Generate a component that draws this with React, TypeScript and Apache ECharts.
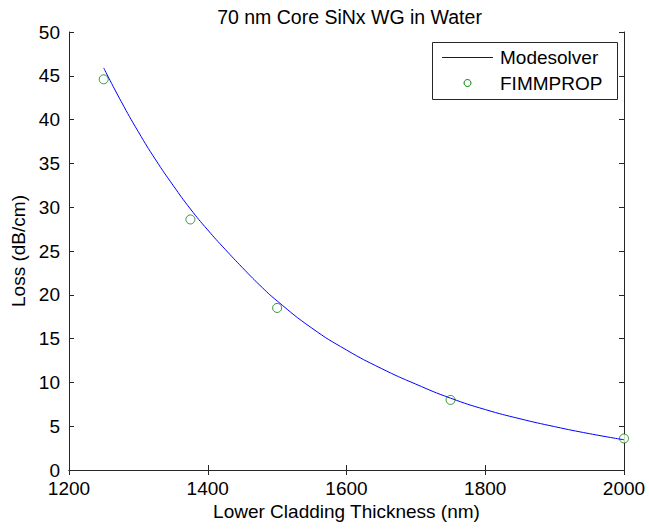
import React, { useEffect, useRef } from "react";
import * as echarts from "echarts";

const titleText = "70 nm Core SiNx WG in Water";
const xName = "Lower Cladding Thickness (nm)";
const yName = "Loss (dB/cm)";
const legendNames = ["Modesolver", "FIMMPROP"];

const curveX = [1250, 1275, 1300, 1325, 1350, 1375, 1400, 1425, 1450, 1475, 1500, 1550, 1600, 1650, 1700, 1750, 1800, 1850, 1900, 1950, 2000];
const curveY = [45.9, 42.1, 38.6, 35.4, 32.5, 29.8, 27.4, 25.2, 23.1, 21.1, 19.3, 16.2, 13.7, 11.6, 9.8, 8.2, 6.9, 5.85, 4.95, 4.15, 3.45];

const fimX = [1250, 1375, 1500, 1750, 2000];
const fimY = [44.6, 28.6, 18.5, 8.0, 3.6];

const FONT = "'Liberation Sans', Arial, sans-serif";
const BLUE = "#0000ff";
const GREEN = "#008000";
const AXIS = "#262626";

export default function App() {
  const ref = useRef<HTMLDivElement>(null);
  useEffect(() => {
    if (!ref.current) return;
    const chart = echarts.init(ref.current, undefined, { renderer: "svg" });
    const axisLine = { show: true, lineStyle: { color: AXIS, width: 1 } };
    const tick = { show: true, inside: true, length: 5, lineStyle: { color: AXIS } };
    const grid = { left: 69, right: 25, top: 32, bottom: 59 };
    const left = grid.left;
    const right = 649 - grid.right;
    const lg = { x: 432, y: 42, w: 185, h: 57 };
    chart.setOption({
      animation: false,
      backgroundColor: "#ffffff",
      textStyle: { fontFamily: FONT },
      title: {
        text: titleText,
        left: (left + right) / 2 - 2,
        top: 2,
        textAlign: "center",
        textStyle: { fontFamily: FONT, fontSize: 19.5, fontWeight: "normal", color: "#000" },
      },
      grid,
      graphic: [
        {
          type: "group",
          z: 100,
          children: [
            {
              type: "rect",
              shape: { x: lg.x + 0.5, y: lg.y + 0.5, width: lg.w, height: lg.h },
              style: { fill: "#fff", stroke: AXIS, lineWidth: 1 },
            },
            {
              type: "line",
              shape: { x1: lg.x + 10, y1: lg.y + 15.5, x2: lg.x + 61, y2: lg.y + 15.5 },
              style: { stroke: BLUE, lineWidth: 1 },
            },
            {
              type: "circle",
              shape: { cx: lg.x + 35.5, cy: lg.y + 41, r: 3.5 },
              style: { fill: "#fff", stroke: GREEN, lineWidth: 1 },
            },
            {
              type: "text",
              x: lg.x + 68,
              y: lg.y + 15.5,
              style: {
                text: legendNames[0],
                font: "19px " + FONT,
                fill: "#000",
                verticalAlign: "middle",
                align: "left",
              },
            },
            {
              type: "text",
              x: lg.x + 68,
              y: lg.y + 41,
              style: {
                text: legendNames[1],
                font: "19px " + FONT,
                fill: "#000",
                verticalAlign: "middle",
                align: "left",
              },
            },
          ],
        },
      ],
      xAxis: [
        {
          type: "value",
          min: 1200,
          max: 2000,
          interval: 200,
          position: "bottom",
          name: xName,
          nameLocation: "middle",
          nameGap: 31,
          nameTextStyle: { fontFamily: FONT, fontSize: 19, color: "#000" },
          axisLine,
          axisTick: tick,
          axisLabel: {
            fontFamily: FONT,
            fontSize: 19,
            lineHeight: 14,
            color: "#000",
            margin: 11,
            formatter: (v: number) => String(v),
          },
          splitLine: { show: false },
        },
        {
          type: "value",
          min: 1200,
          max: 2000,
          interval: 200,
          position: "top",
          axisLine,
          axisTick: tick,
          axisLabel: { show: false },
          splitLine: { show: false },
        },
      ],
      yAxis: [
        {
          type: "value",
          min: 0,
          max: 50,
          interval: 5,
          position: "left",
          name: yName,
          nameLocation: "middle",
          nameGap: 40,
          nameTextStyle: { fontFamily: FONT, fontSize: 19, color: "#000" },
          axisLine,
          axisTick: tick,
          axisLabel: { fontFamily: FONT, fontSize: 19, lineHeight: 14, color: "#000", margin: 9 },
          splitLine: { show: false },
        },
        {
          type: "value",
          min: 0,
          max: 50,
          interval: 5,
          position: "right",
          axisLine,
          axisTick: tick,
          axisLabel: { show: false },
          splitLine: { show: false },
        },
      ],
      series: [
        {
          name: legendNames[0],
          type: "line",
          data: curveX.map((x, i) => [x, curveY[i]]),
          smooth: true,
          showSymbol: false,
          symbol: "none",
          lineStyle: { color: BLUE, width: 1 },
          itemStyle: { color: BLUE },
        },
        {
          name: legendNames[1],
          type: "scatter",
          data: fimX.map((x, i) => [x, fimY[i]]),
          symbol: "circle",
          symbolSize: 9,
          itemStyle: { color: "#ffffff", borderColor: GREEN, borderWidth: 1 },
        },
      ],
    });
    return () => chart.dispose();
  }, []);
  return (
    <div
      ref={ref}
      style={{ position: "fixed", left: 0, top: 0, width: 649, height: 529, background: "#fff" }}
    />
  );
}
